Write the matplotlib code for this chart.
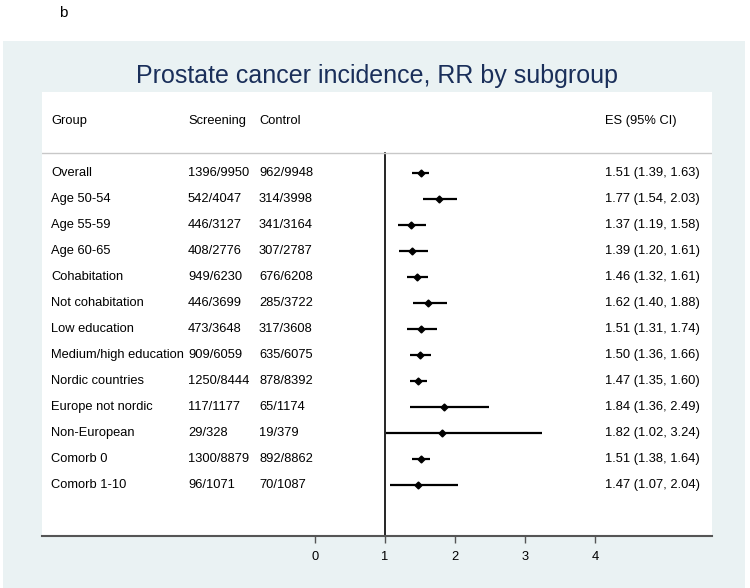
import matplotlib.pyplot as plt
from matplotlib.patches import Rectangle
from matplotlib.transforms import blended_transform_factory

groups = ["Overall", "Age 50-54", "Age 55-59", "Age 60-65", "Cohabitation",
          "Not cohabitation", "Low education", "Medium/high education",
          "Nordic countries", "Europe not nordic", "Non-European",
          "Comorb 0", "Comorb 1-10"]
screening = ["1396/9950", "542/4047", "446/3127", "408/2776", "949/6230",
             "446/3699", "473/3648", "909/6059", "1250/8444", "117/1177",
             "29/328", "1300/8879", "96/1071"]
control = ["962/9948", "314/3998", "341/3164", "307/2787", "676/6208",
           "285/3722", "317/3608", "635/6075", "878/8392", "65/1174",
           "19/379", "892/8862", "70/1087"]
rr = [1.51, 1.77, 1.37, 1.39, 1.46, 1.62, 1.51, 1.50, 1.47, 1.84, 1.82, 1.51, 1.47]
lo = [1.39, 1.54, 1.19, 1.20, 1.32, 1.40, 1.31, 1.36, 1.35, 1.36, 1.02, 1.38, 1.07]
hi = [1.63, 2.03, 1.58, 1.61, 1.61, 1.88, 1.74, 1.66, 1.60, 2.49, 3.24, 1.64, 2.04]
xticks = [0, 1, 2, 3, 4]

W, H = 750, 588
bg = "#eaf2f3"
navy = "#1a2f5a"
fs = 9.3

plt.rcParams["font.family"] = ["Liberation Sans", "DejaVu Sans"]

fig = plt.figure(figsize=(7.5, 5.88), dpi=100, facecolor="white")

# outer graph region
fig.patches.append(Rectangle((3 / W, 0), (745 - 3) / W, (588 - 41) / H,
                             transform=fig.transFigure, facecolor=bg,
                             edgecolor="none", zorder=-5))
fig.text(63 / W, 1 - 13 / H, "b", fontsize=11, ha="center", va="center")
fig.text(377 / W, 1 - 76 / H, "Prostate cancer incidence, RR by subgroup",
         fontsize=18, color=navy, ha="center", va="center")

ax = fig.add_axes([42 / W, (H - 536) / H, (712 - 42) / W, (536 - 92) / H])
ax.set_facecolor("white")
ax.set_zorder(1)

rows = list(range(len(groups)))
# pixel -> value: 0 at x=315, 70 px per unit
ax.set_xlim((42 - 315) / 70, (712 - 315) / 70)
ax.set_ylim((536 - 173) / 26, (92 - 173) / 26)

for y, a, b in zip(rows, lo, hi):
    ax.plot([a, b], [y, y], color="black", lw=1.6, solid_capstyle="butt")
ax.plot(rr, rows, "D", color="black", markersize=3.5, zorder=4)

ax.axvline(1, ymin=0, ymax=(536 - 153) / (536 - 92), color="black", lw=1.2)
ax.axhline((153 - 173) / 26, color="#c8c8c8", lw=1)

trans = blended_transform_factory(ax.transAxes, ax.transData)
cols = [(51, "Group", groups), (188, "Screening", screening),
        (259, "Control", control)]
for px, head, vals in cols:
    xa = (px - 42) / (712 - 42)
    ax.text(xa, -2, head, transform=trans, fontsize=fs, va="center")
    for y, v in zip(rows, vals):
        ax.text(xa, y, v, transform=trans, fontsize=fs, va="center")
xa = (605 - 42) / (712 - 42)
ax.text(xa, -2, "ES (95% CI)", transform=trans, fontsize=fs, va="center")
for y, r, a, b in zip(rows, rr, lo, hi):
    ax.text(xa, y, f"{r:.2f} ({a:.2f}, {b:.2f})", transform=trans,
            fontsize=fs, va="center")

for s in ["top", "left", "right"]:
    ax.spines[s].set_visible(False)
ax.spines["bottom"].set_color("#555555")
ax.spines["bottom"].set_linewidth(1.5)
ax.set_yticks([])
ax.set_xticks(xticks)
ax.tick_params(axis="x", length=5, width=1, color="#555555", pad=6,
               labelsize=fs)

fig.savefig("out.png", dpi=100, facecolor="white")
